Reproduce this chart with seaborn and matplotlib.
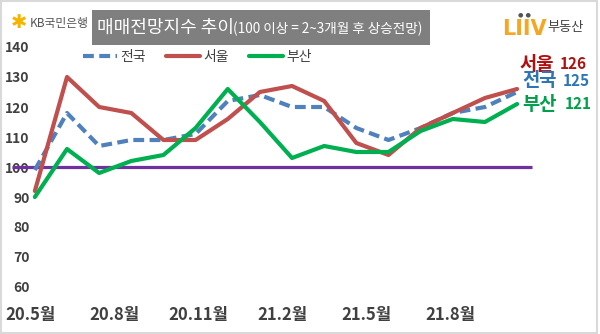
import matplotlib
matplotlib.use("Agg")
import matplotlib.pyplot as plt
from matplotlib.lines import Line2D
from matplotlib.patches import Rectangle
import seaborn as sns
import pandas as pd

# ---- data ----
months = ["20.5", "20.6", "20.7", "20.8", "20.9", "20.10", "20.11", "20.12",
          "21.1", "21.2", "21.3", "21.4", "21.5", "21.6", "21.7", "21.8"]
national = [99, 118, 107, 109, 109, 111, 122, 124, 120, 120, 113, 109, 113, 118, 120, 125]
seoul = [92, 130, 120, 118, 109, 109, 116, 125, 127, 122, 108, 104, 113, 118, 123, 126]
busan = [90, 106, 98, 102, 104, 113, 126, 115, 103, 107, 105, 105, 112, 116, 115, 121]
regions = ["전국", "서울", "부산"]
tick_labels = ["20.5월", "20.8월", "20.11월", "21.2월", "21.5월", "21.8월"]
tick_pos = [-0.12, 2.49, 5.09, 7.70, 10.30, 12.91]
y_ticks = [60, 70, 80, 90, 100, 110, 120, 130, 140]
baseline = 100

colors = {"전국": "#4f81bd", "서울": "#c0504d", "부산": "#00b050"}
label_colors = {"전국": "#2e75b6", "서울": "#b01010", "부산": "#00a04a"}

rows = []
for name, vals in zip(regions, [national, seoul, busan]):
    for i, (m, v) in enumerate(zip(months, vals)):
        rows.append({"idx": i, "month": m, "region": name, "value": v})
df = pd.DataFrame(rows)

sns.set_theme(style="white")
plt.rcParams["font.family"] = ["Noto Sans CJK KR", "DejaVu Sans"]

W, H = 600, 334
fig = plt.figure(figsize=(6, 3.34), dpi=100)
fig.patch.set_facecolor("white")

# axes placement in pixels
ax_l, ax_r, ax_t, ax_b = 31, 540, 40, 300
ax = fig.add_axes([ax_l / W, (H - ax_b) / H, (ax_r - ax_l) / W, (ax_b - ax_t) / H])
ax.set_facecolor("white")

px_per_x = 32.33
x0_px = 32
ax.set_xlim(-(x0_px - ax_l) / px_per_x, (ax_r - x0_px) / px_per_x)
ax.set_ylim(140 - (ax_b - 47) / 3.0, 140 + (47 - ax_t) / 3.0)

ax.hlines(baseline, -0.72, 15.47, color="#7030a0", lw=2.3, zorder=1, clip_on=False)

sns.lineplot(data=df, x="idx", y="value", hue="region", style="region",
             hue_order=regions, style_order=regions, palette=colors,
             dashes={"전국": (2.6, 1.3), "서울": "", "부산": ""},
             linewidth=3, legend=False, ax=ax, zorder=3)

for s in ax.spines.values():
    s.set_visible(False)
ax.set_xlabel("")
ax.set_ylabel("")
ax.set_yticks(y_ticks)
ax.set_yticklabels([str(v) for v in y_ticks])
ax.set_xticks(tick_pos)
ax.set_xticklabels(tick_labels)
ax.tick_params(axis="y", length=0, pad=1, labelsize=10, labelcolor="#404040")
ax.tick_params(axis="x", length=0, pad=4, labelsize=12, labelcolor="#404040")
for t in ax.get_yticklabels() + ax.get_xticklabels():
    t.set_fontweight("bold")
ax.grid(False)

# legend
handles = [Line2D([], [], color=colors["전국"], lw=3, dashes=(2.6, 1.3)),
           Line2D([], [], color=colors["서울"], lw=3),
           Line2D([], [], color=colors["부산"], lw=3)]
leg = fig.legend(handles, regions, ncol=3, frameon=False, loc="center left",
                 bbox_to_anchor=(83 / W, 1 - 57 / H), borderaxespad=0, borderpad=0,
                 handlelength=2.45, handletextpad=0.25, columnspacing=1.45,
                 prop={"size": 10})
for t in leg.get_texts():
    t.set_color("#404040")

# end labels
end_vals = {"서울": seoul[-1], "전국": national[-1], "부산": busan[-1]}
end_pos = {"서울": (520, 560, 64), "전국": (522, 563, 81), "부산": (522, 565, 104)}
for name in ["서울", "전국", "부산"]:
    xa, xb, yy = end_pos[name]
    fig.text(xa / W, 1 - yy / H, name, color=label_colors[name], fontsize=13.5,
             fontweight="bold", va="center", ha="left")
    fig.text(xb / W, 1 - yy / H, str(end_vals[name]), color=label_colors[name],
             fontsize=11, fontweight="bold", va="center", ha="left")

# title box
fig.patches.append(Rectangle((92 / W, 1 - 45 / H), (430 - 92) / W, 35 / H,
                             transform=fig.transFigure, facecolor="#7f7f7f",
                             edgecolor="none", zorder=0))
fig.text(97 / W, 1 - 27.5 / H, "매매전망지수 추이", color="white", fontsize=13,
         va="center", ha="left")
fig.text(233 / W, 1 - 28.5 / H, "(100 이상 = 2~3개월 후 상승전망)", color="white",
         fontsize=9.8, va="center", ha="left")

# KB logo
fig.text(19 / W, 1 - 23 / H, "✱", color="#f5b400", fontsize=14, va="center",
         ha="center", family=["DejaVu Sans"])
fig.text(30 / W, 1 - 24 / H, "KB국민은행", color="#555555", fontsize=8.5,
         va="center", ha="left")

# Liiv logo
fig.text(502 / W, 1 - 29 / H, "LIIV", color="#f5a623", fontsize=15,
         fontweight="heavy", va="center", ha="left", family=["DejaVu Sans"])
fig.text(524 / W, 1 - 15 / H, "● ●", color="#555555", fontsize=4.5,
         va="center", ha="center", family=["DejaVu Sans"])
fig.text(547 / W, 1 - 27 / H, "부동산", color="#444444", fontsize=9.5,
         va="center", ha="left")

# frame
fig.patches.append(Rectangle((0.002, 0.003), 0.993, 0.994, transform=fig.transFigure,
                             fill=False, edgecolor="#d9d9d9", lw=1.5, zorder=5))

fig.savefig("out.png", dpi=100, facecolor="white")
